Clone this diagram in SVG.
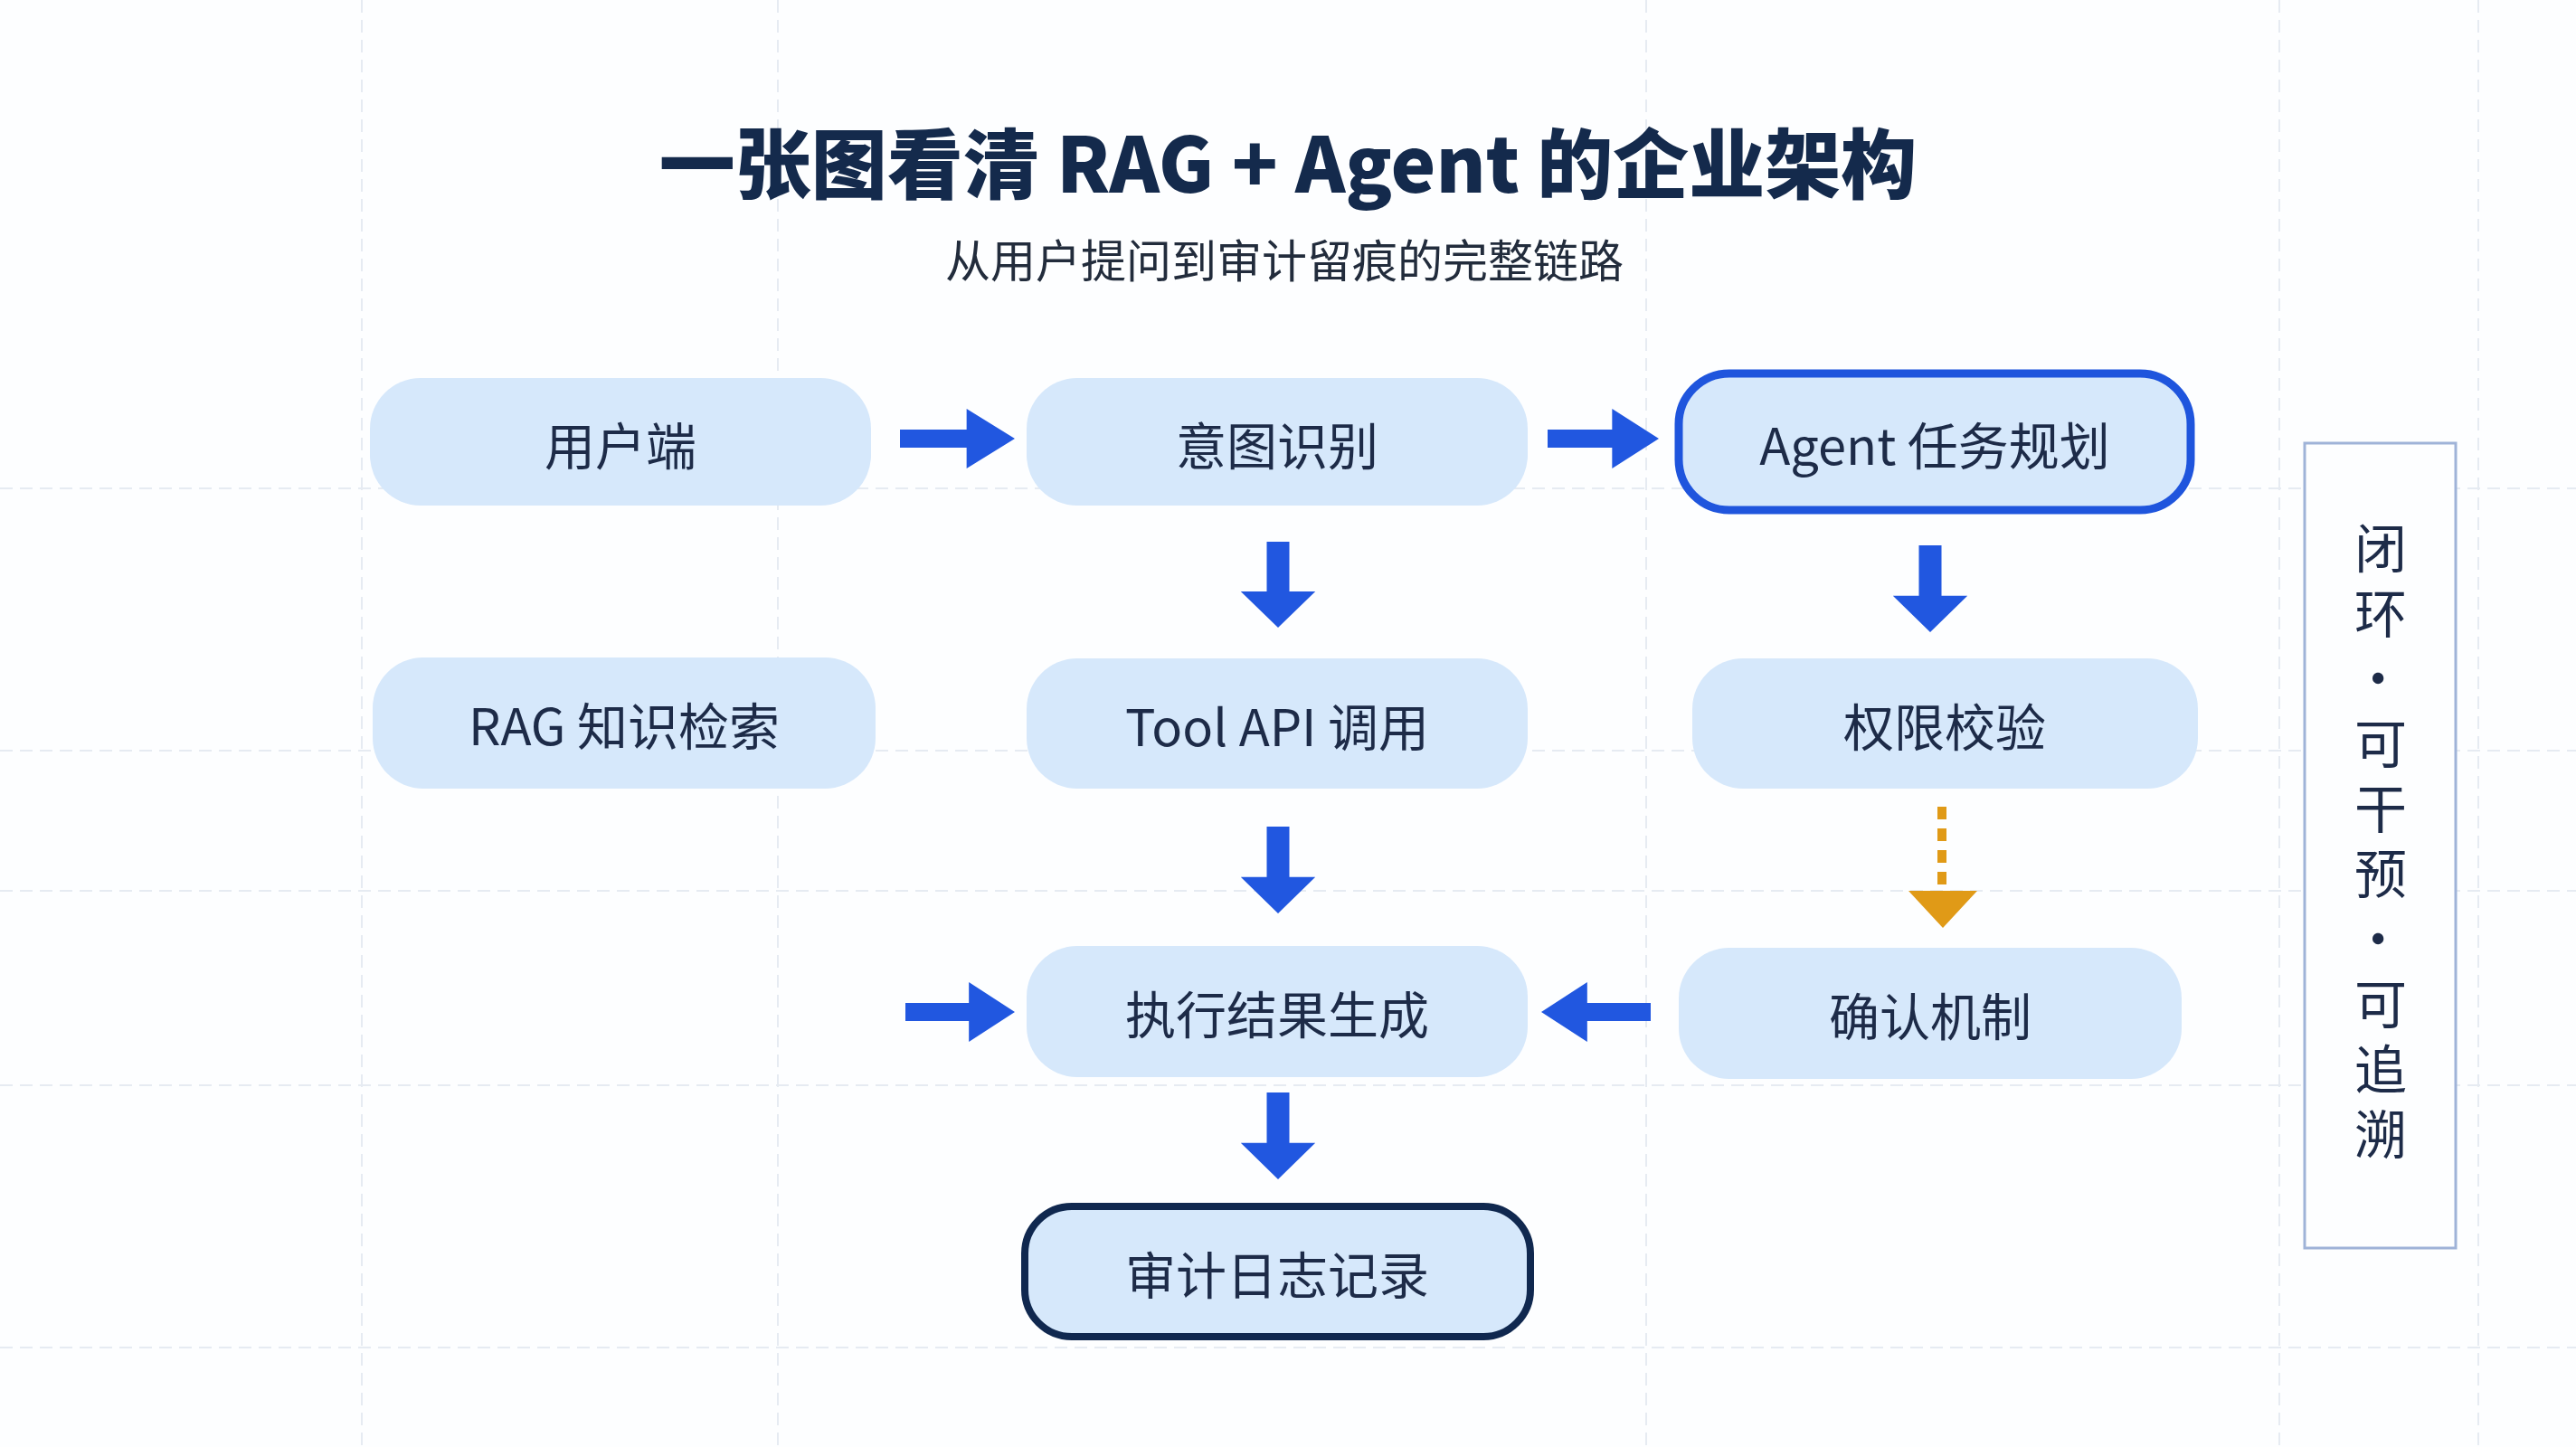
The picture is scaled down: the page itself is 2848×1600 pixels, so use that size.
<svg xmlns="http://www.w3.org/2000/svg" width="2848" height="1600" viewBox="0 0 2848 1600">
<style>
.n{fill:#d6e8fb;}
.t{font-family:"Noto Sans CJK SC","Noto Sans",sans-serif;font-size:56px;fill:#1d2b48;text-anchor:middle;dominant-baseline:central;}
.g{stroke:#e6ebf2;stroke-width:2;fill:none;stroke-dasharray:14 8;}
.a{fill:#2157e0;}
</style>
<defs>
<path id="ar" d="M0,-10 H58 V-33 L100,0 L58,33 V10 H0 Z"/>
</defs>
<rect width="2848" height="1600" fill="#fdfeff"/>
<g id="grid">
<path class="g" d="M0,540 H2848 M0,830 H2848 M0,985 H2848 M0,1200 H2848 M0,1490 H2848 M400,0 V1600 M860,0 V1600 M1820,0 V1600 M2520,0 V1600 M2740,0 V1600"/>
</g>
<text x="1424" y="176" font-family="'Noto Sans CJK SC',sans-serif" font-size="84" font-weight="900" fill="#142a4c" text-anchor="middle" dominant-baseline="central">一张图看清 RAG + Agent 的企业架构</text>
<text x="1420" y="285" font-family="'Noto Sans CJK SC',sans-serif" font-size="50" fill="#222c3c" text-anchor="middle" dominant-baseline="central">从用户提问到审计留痕的完整链路</text>
<g id="n1"><rect class="n" x="409" y="418" width="554" height="141" rx="56"/><text class="t" x="686" y="489">用户端</text></g>
<g id="n2"><rect class="n" x="1135" y="418" width="554" height="141" rx="56"/><text class="t" x="1412" y="489">意图识别</text></g>
<g id="n3"><rect class="n" x="1856" y="413" width="566" height="151" rx="56" stroke="#1f55dd" stroke-width="9"/><text class="t" x="2139" y="489">Agent 任务规划</text></g>
<g id="n4"><rect class="n" x="412" y="727" width="556" height="145" rx="56"/><text class="t" x="690" y="799">RAG 知识检索</text></g>
<g id="n5"><rect class="n" x="1135" y="728" width="554" height="144" rx="56"/><text class="t" x="1412" y="800">Tool API 调用</text></g>
<g id="n6"><rect class="n" x="1871" y="728" width="559" height="144" rx="56"/><text class="t" x="2150" y="800">权限校验</text></g>
<g id="n7"><rect class="n" x="1135" y="1046" width="554" height="145" rx="56"/><text class="t" x="1412" y="1118">执行结果生成</text></g>
<g id="n8"><rect class="n" x="1856" y="1048" width="556" height="145" rx="56"/><text class="t" x="2134" y="1120">确认机制</text></g>
<g id="n9"><rect class="n" x="1133" y="1334" width="559" height="144" rx="52" stroke="#10284f" stroke-width="8"/><text class="t" x="1412" y="1406">审计日志记录</text></g>
<g id="side"><rect x="2548" y="490" width="167" height="890" fill="#fdfeff" stroke="#9fb3d8" stroke-width="3"/>
<text x="2632" y="577" writing-mode="vertical-rl" letter-spacing="14" font-family="'Noto Sans CJK SC',sans-serif" font-size="58" fill="#1d2b48">闭环·可干预·可追溯</text></g>
<g id="connectors">
<use href="#ar" class="a" transform="translate(995,485) scale(1.27,1)"/>
<use href="#ar" class="a" transform="translate(1711,485) scale(1.23,1)"/>
<use href="#ar" class="a" transform="translate(1413,599) rotate(90) scale(0.95,1.25)"/>
<use href="#ar" class="a" transform="translate(2134,603) rotate(90) scale(0.96,1.25)"/>
<use href="#ar" class="a" transform="translate(1413,914) rotate(90) scale(0.96,1.25)"/>
<use href="#ar" class="a" transform="translate(1001,1119) scale(1.21,1)"/>
<use href="#ar" class="a" transform="translate(1825,1119) rotate(180) scale(1.21,1)"/>
<use href="#ar" class="a" transform="translate(1413,1208) rotate(90) scale(0.96,1.25)"/>
<path d="M2147,892 V982" stroke="#e09a17" stroke-width="10" stroke-dasharray="14 10"/>
<path d="M2110,985 H2186 L2148,1026 Z" fill="#e09a17"/>
</g>
</svg>
